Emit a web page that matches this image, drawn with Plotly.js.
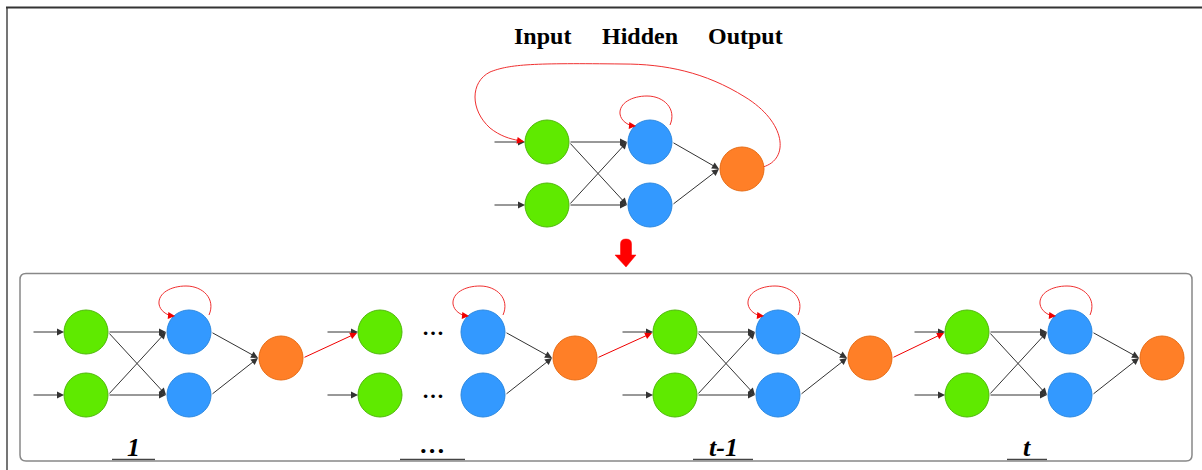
<!DOCTYPE html>
<html><head><meta charset="utf-8">
<script src="https://cdn.plot.ly/plotly-3.0.1.min.js"></script>
<style>html,body{margin:0;padding:0;background:#fff;overflow:hidden}</style>
</head><body>
<div id="c" style="width:1202px;height:470px"></div>
<script>
// ---- diagram content ----
const layerTitles = ['Input', 'Hidden', 'Output'];
const titleX = [542, 640, 745];
const titleY = 36;
const topNetX = 547;              // x of the input layer in the folded net
const topRowY = [142, 205];
const topOutY = 169;
const unitLabels = ['1', '…', 't-1', 't'];
const unitX = [86, 380, 675, 967]; // x of the input layer of each unrolled step
const unitRowY = [332, 395];
const unitOutY = 358;
const unitHasLinks = [true, false, true, true];
const labelX = [133, 433, 723, 1027];
const labelY = 447;
const underlineX0 = [112, 400, 693, 1007];
const underlineX1 = [155, 465, 753, 1047];
const layerDx = [0, 103, 195];
const nodeFill = ['#5FEA00', '#3399FF', '#FF7F27'];
const nodeEdge = ['#4FB80A', '#2B88E0', '#E86C14'];

const R = 22;
const traces = [];
const ann = [];
const shapes = [];
const serif = 'Liberation Serif, Times New Roman, serif';

function arrow(x0, y0, x1, y1, color, w) {
  ann.push({x: x1, y: y1, ax: x0, ay: y0, xref: 'x', yref: 'y', axref: 'x', ayref: 'y',
    text: '', showarrow: true, arrowhead: 2, arrowsize: 1.4, arrowwidth: w || 1,
    arrowcolor: color || '#333', standoff: 0, startstandoff: 0});
}
function selfLoop(bx, by) {
  shapes.push({type: 'path', xref: 'x', yref: 'y', layer: 'below',
    path: `M ${bx+20},${by-17} C ${bx+27},${by-33} ${bx+14},${by-46} ${bx-3},${by-46} ` +
          `C ${bx-18},${by-46} ${bx-31},${by-39} ${bx-30},${by-28} ` +
          `C ${bx-29},${by-21} ${bx-22},${by-17} ${bx-17},${by-16}`,
    line: {color: '#F03030', width: 1}});
  arrow(bx - 20, by - 16.5, bx - 14, by - 16, '#F00000', 1);
}
function net(gx, rows, outY, links, dots) {
  const hx = gx + layerDx[1], ox = gx + layerDx[2];
  rows.forEach(y => arrow(gx - 54, y, gx - R, y));
  if (links) {
    rows.forEach(yi => rows.forEach(yj => arrow(gx + R, yi, hx - R - 1, yj)));
  }
  rows.forEach(y => arrow(hx + R, y, ox - R - 1, outY));
  selfLoop(hx, rows[0]);
  if (dots) {
    rows.forEach(y => ann.push({x: (gx + hx) / 2 + 1, y: y - 5, xref: 'x', yref: 'y', text: '<b>…</b>',
      showarrow: false, font: {family: serif, size: 22, color: '#000'}}));
  }
  const xs = [gx, gx, hx, hx, ox], ys = [rows[0], rows[1], rows[0], rows[1], outY];
  const ci = [0, 0, 1, 1, 2];
  traces.push({type: 'scatter', mode: 'markers', x: xs, y: ys, hoverinfo: 'skip',
    marker: {size: 2 * R, color: ci.map(i => nodeFill[i]),
      line: {color: ci.map(i => nodeEdge[i]), width: 1}}});
  return {gx, hx, ox};
}

// folded network
const foldNet = net(topNetX, topRowY, topOutY, true, false);
{
  const O = {x: foldNet.ox, y: topOutY}, G = {x: foldNet.gx, y: topRowY[0]};
  shapes.push({type: 'path', xref: 'x', yref: 'y', layer: 'below',
    path: `M ${O.x+21},${O.y-2} C ${O.x+48},${O.y-10} ${O.x+44},${O.y-47} ${O.x+3},${O.y-72} ` +
          `C ${O.x-37},${O.y-97} ${O.x-77},${O.y-105} ${O.x-119},${O.y-105} ` +
          `C ${G.x-13},${G.y-79} ${G.x-37},${G.y-78} ${G.x-57},${G.y-70} ` +
          `C ${G.x-77},${G.y-60} ${G.x-77},${G.y-32} ${G.x-57},${G.y-14} ` +
          `C ${G.x-47},${G.y-6} ${G.x-37},${G.y-3} ${G.x-28},${G.y-1.5}`,
    line: {color: '#F03030', width: 1}});
  arrow(G.x - 32, G.y - 2, G.x - R - 1, G.y - 0.5, '#F00000', 1);
}
layerTitles.forEach((t, i) => ann.push({x: titleX[i], y: titleY, xref: 'x', yref: 'y', text: '<b>' + t + '</b>',
  showarrow: false, font: {family: serif, size: 24, color: '#000'}}));

// unrolled network
const units = unitX.map((gx, k) => net(gx, unitRowY, unitOutY, unitHasLinks[k], !unitHasLinks[k]));
for (let k = 0; k < units.length - 1; k++) {
  arrow(units[k].ox + R, unitOutY, units[k + 1].gx - R - 1, unitRowY[0] + 1, '#F00000', 1);
}
unitLabels.forEach((t, k) => {
  ann.push({x: labelX[k], y: t === '…' ? labelY - 3 : labelY, xref: 'x', yref: 'y',
    text: '<b><i>' + t + '</i></b>', showarrow: false,
    font: {family: serif, size: 26, color: '#000'}});
  shapes.push({type: 'line', xref: 'x', yref: 'y', x0: underlineX0[k], x1: underlineX1[k], y0: 459.5, y1: 459.5,
    line: {color: '#444', width: 1.5}});
});

// frames
shapes.push({type: 'line', xref: 'x', yref: 'y', x0: 7, x1: 7, y0: 7, y1: 470, line: {color: '#666', width: 1.8}});
shapes.push({type: 'line', xref: 'x', yref: 'y', x0: 6, x1: 1202, y0: 7.5, y1: 7.5, line: {color: '#333', width: 1.8}});
shapes.push({type: 'path', xref: 'x', yref: 'y',
  path: 'M 26,273.5 L 1186,273.5 Q 1192,273.5 1192,279.5 L 1192,455 Q 1192,461 1186,461 L 26,461 Q 20,461 20,455 L 20,279.5 Q 20,273.5 26,273.5 Z',
  line: {color: '#888', width: 1.5}});
// down arrow
shapes.push({type: 'path', xref: 'x', yref: 'y', layer: 'above',
  path: 'M 620.5,255 L 620.5,244 Q 620.5,239 626,239 Q 631.5,239 631.5,244 L 631.5,255 L 636,255 L 626,267 L 615,255 Z',
  fillcolor: '#FF0000', line: {color: '#FF0000', width: 0.5}});

Plotly.newPlot('c', traces, {
  width: 1202, height: 470, margin: {l: 0, r: 0, t: 0, b: 0},
  paper_bgcolor: '#fff', plot_bgcolor: '#fff', showlegend: false,
  xaxis: {range: [0, 1202], visible: false, fixedrange: true},
  yaxis: {range: [470, 0], visible: false, fixedrange: true},
  shapes: shapes, annotations: ann
}, {staticPlot: true, displayModeBar: false});
</script>
</body></html>
